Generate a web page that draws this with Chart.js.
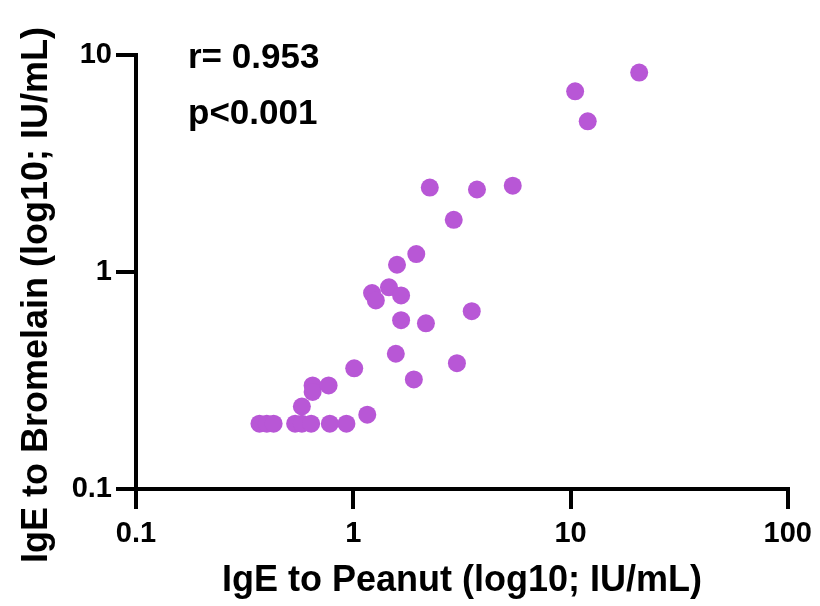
<!DOCTYPE html>
<html>
<head>
<meta charset="utf-8">
<script src="https://cdn.jsdelivr.net/npm/chart.js@4/dist/chart.umd.min.js"></script>
<style>
html,body{margin:0;padding:0;background:#fff;}
#wrap{width:820px;height:606px;}
</style>
</head>
<body>
<div id="wrap"><canvas id="c" width="820" height="606"></canvas></div>
<script>
// IgE to Peanut (x) and IgE to Bromelain (y), IU/mL
const peanut = [0.37, 0.40, 0.43, 0.54, 0.58, 0.64, 0.78, 0.93,
                0.58, 0.65, 0.65, 0.77, 1.01, 1.16, 1.57, 1.90,
                1.95, 1.59, 1.22, 1.27, 1.46, 1.66, 1.66, 2.16,
                3.51, 3.00, 2.25, 3.71, 5.42, 2.90, 10.5, 12.0, 20.7];
const bromelain = [0.20, 0.20, 0.20, 0.20, 0.20, 0.20, 0.20, 0.20,
                   0.24, 0.30, 0.28, 0.30, 0.36, 0.22, 0.42, 0.32,
                   1.21, 1.08, 0.80, 0.74, 0.85, 0.78, 0.60, 0.58,
                   0.66, 0.38, 2.45, 2.40, 2.50, 1.74, 6.8, 4.95, 8.3];
const xTicks = [0.1, 1, 10, 100];
const xTickLabels = ['0.1', '1', '10', '100'];
const yTicks = [0.1, 1, 10];
const yTickLabels = ['0.1', '1', '10'];
const xTitle = 'IgE to Peanut (log10; IU/mL)';
const yTitle = 'IgE to Bromelain (log10; IU/mL)';
const annotationLines = ['r= 0.953', 'p<0.001'];

const FONT = '"Liberation Sans", Arial, Helvetica, sans-serif';
const points = peanut.map((x, i) => ({x: x, y: bromelain[i]}));

const textPlugin = {
  id: 'texts',
  afterDraw(chart) {
    const ctx = chart.ctx;
    ctx.save();
    ctx.fillStyle = '#000';
    ctx.font = 'bold 35px ' + FONT;
    ctx.textAlign = 'left';
    ctx.textBaseline = 'alphabetic';
    ctx.fillText(annotationLines[0], 188, 68);
    ctx.fillText(annotationLines[1], 188, 124);
    ctx.font = 'bold 36px ' + FONT;
    ctx.translate(47, 295);
    ctx.rotate(-Math.PI / 2);
    ctx.textAlign = 'center';
    ctx.fillText(yTitle, 0, 0);
    ctx.restore();
  }
};

new Chart(document.getElementById('c'), {
  type: 'scatter',
  data: {
    datasets: [{
      data: points,
      backgroundColor: '#b857d6',
      borderColor: '#b857d6',
      borderWidth: 0,
      pointRadius: 9,
      pointHoverRadius: 9
    }]
  },
  options: {
    responsive: false,
    animation: false,
    devicePixelRatio: 1,
    layout: {autoPadding: false, padding: {top: 55, right: 30, left: 0, bottom: 0}},
    plugins: {legend: {display: false}, tooltip: {enabled: false}},
    scales: {
      x: {
        type: 'logarithmic',
        min: 0.1, max: 100,
        afterBuildTicks: s => { s.ticks = xTicks.map(v => ({value: v})); },
        afterFit: s => { s.height = 117; },
        border: {display: true, color: '#000', width: 4},
        grid: {display: true, drawOnChartArea: false, drawTicks: true, tickLength: 20, tickWidth: 4, lineWidth: 4, tickColor: '#000', color: '#000'},
        ticks: {
          color: '#000',
          font: {family: FONT, size: 29, weight: 'bold'},
          padding: 8,
          maxRotation: 0,
          autoSkip: false,
          callback: (v) => { const i = xTicks.indexOf(v); return i >= 0 ? xTickLabels[i] : ''; }
        },
        title: {display: true, text: xTitle, color: '#000', font: {family: FONT, size: 36, weight: 'bold', lineHeight: 1.2}, padding: {top: 0, bottom: 3}}
      },
      y: {
        type: 'logarithmic',
        min: 0.1, max: 10,
        afterBuildTicks: s => { s.ticks = yTicks.map(v => ({value: v})); },
        afterFit: s => { s.width = 136; },
        border: {display: true, color: '#000', width: 4},
        grid: {display: true, drawOnChartArea: false, drawTicks: true, tickLength: 20, tickWidth: 4, lineWidth: 4, tickColor: '#000', color: '#000'},
        ticks: {
          color: '#000',
          font: {family: FONT, size: 29, weight: 'bold'},
          padding: 4,
          autoSkip: false,
          callback: (v) => { const i = yTicks.indexOf(v); return i >= 0 ? yTickLabels[i] : ''; }
        },
        title: {display: false}
      }
    }
  },
  plugins: [textPlugin]
});
</script>
</body>
</html>
